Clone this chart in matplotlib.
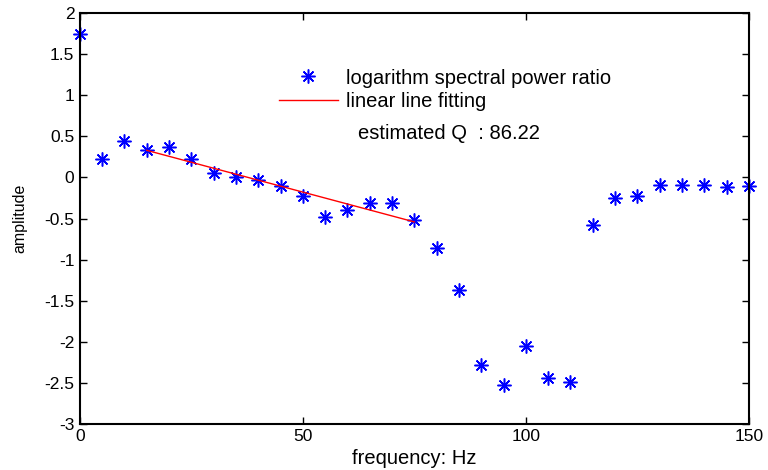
import numpy as np
import matplotlib.pyplot as plt

plt.rcParams['font.family'] = ['Liberation Sans', 'DejaVu Sans']

freq = np.arange(0, 155, 5)
ratio = [1.75, 0.22, 0.44, 0.34, 0.37, 0.22, 0.06, 0.01, -0.03, -0.10,
         -0.23, -0.48, -0.39, -0.31, -0.31, -0.52, -0.86, -1.37, -2.28,
         -2.52, -2.05, -2.44, -2.49, -0.58, -0.25, -0.22, -0.09, -0.09,
         -0.09, -0.11, -0.10]
fit_lo, fit_hi = 15, 75
q_est = 86.22


def main():
    ratio_arr = np.array(ratio)
    mask = (freq >= fit_lo) & (freq <= fit_hi)
    coef = np.polyfit(freq[mask], ratio_arr[mask], 1)
    fit_x = np.array([fit_lo, fit_hi])

    fs = 14.5
    fig = plt.figure(figsize=(7.68, 4.70), dpi=100)
    ax = fig.add_axes([0.104, 0.098, 0.871, 0.874])
    ax.plot(freq, ratio_arr, linestyle='none', marker=(8, 2, 0),
            color='#0000ff', markersize=10, markeredgewidth=1.1,
            clip_on=False, label='logarithm spectral power ratio')
    ax.plot(fit_x, np.polyval(coef, fit_x), color='#ff0000', lw=1.0,
            label='linear line fitting')
    ax.text(62.3, 0.54, 'estimated Q  : %.2f' % q_est, fontsize=fs,
            va='center')

    ax.set_xlim(0, 150)
    ax.set_ylim(-3, 2)
    ax.set_xticks([0, 50, 100, 150])
    ax.set_yticks(np.arange(-3, 2.5, 0.5))
    ax.set_yticklabels(['-3', '-2.5', '-2', '-1.5', '-1', '-0.5', '0',
                        '0.5', '1', '1.5', '2'])
    ax.tick_params(direction='in', top=True, right=True, labelsize=12.5,
                   length=5, width=1, pad=4)
    for s in ax.spines.values():
        s.set_linewidth(1.5)
    ax.set_xlabel('frequency: Hz', fontsize=fs, labelpad=3)
    ax.set_ylabel('amplitude', fontsize=11.5, labelpad=12)
    ax.legend(loc='upper left', bbox_to_anchor=(0.292, 0.875),
              frameon=False, fontsize=fs, handlelength=2.9, borderpad=0.2,
              borderaxespad=0, labelspacing=0.2, handletextpad=0.4)
    fig.savefig('out.png', dpi=100)


if __name__ == "__main__":
    main()
